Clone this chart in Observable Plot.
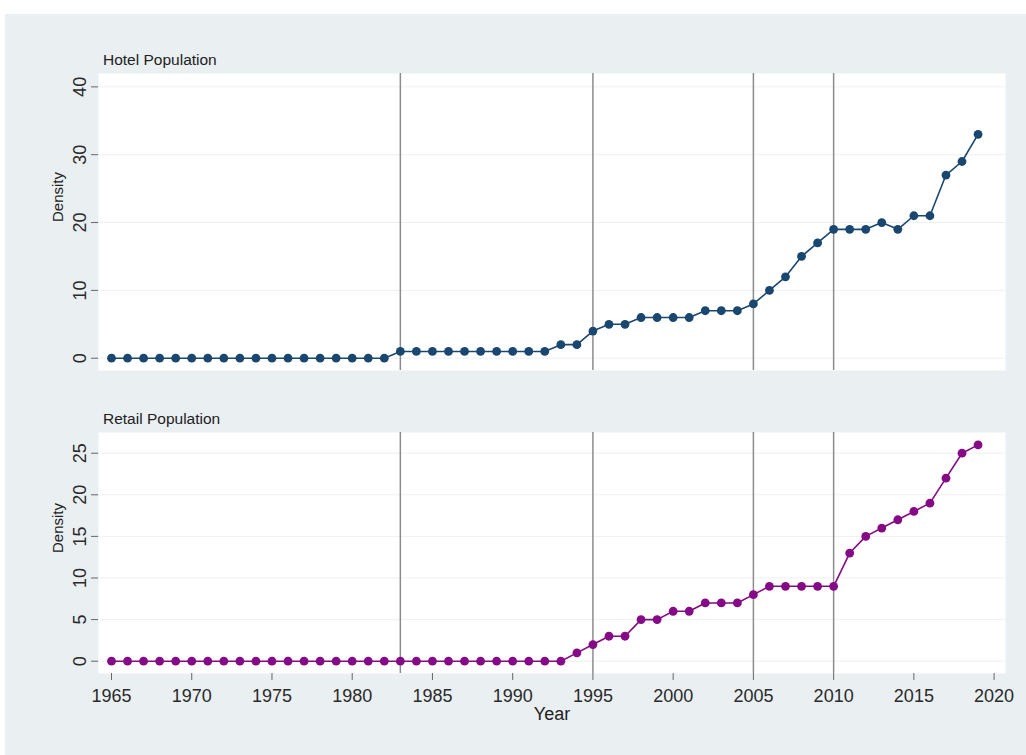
<!DOCTYPE html>
<html>
<head>
<meta charset="utf-8">
<script src="https://cdn.jsdelivr.net/npm/d3@7"></script>
<script src="https://cdn.jsdelivr.net/npm/@observablehq/plot@0.6"></script>
<style>
  html, body { margin: 0; padding: 0; background: #ffffff; width: 1026px; height: 755px; overflow: hidden; }
  body { position: relative; font-family: "Liberation Sans", Arial, sans-serif; color: #222; }
  #bg { position: absolute; left: 5px; top: 14px; width: 1021px; height: 741px; background: #eaeff2; }
  .ptitle { position: absolute; left: 103px; font-size: 15.5px; line-height: 16px; color: #222; white-space: nowrap; }
  .panel { position: absolute; left: 0; }
</style>
</head>
<body>
<div id="bg"></div>
<div class="ptitle" style="top:52px">Hotel Population</div>
<div id="top" class="panel" style="top:68px"></div>
<div class="ptitle" style="top:411px">Retail Population</div>
<div id="bottom" class="panel" style="top:427px"></div>
<script>
const years = [1965,1966,1967,1968,1969,1970,1971,1972,1973,1974,1975,1976,1977,1978,1979,1980,1981,1982,
  1983,1984,1985,1986,1987,1988,1989,1990,1991,1992,1993,1994,1995,1996,1997,1998,1999,2000,
  2001,2002,2003,2004,2005,2006,2007,2008,2009,2010,2011,2012,2013,2014,2015,2016,2017,2018,2019];
const hotel = [0,0,0,0,0,0,0,0,0,0,0,0,0,0,0,0,0,0,
  1,1,1,1,1,1,1,1,1,1,2,2,4,5,5,6,6,6,
  6,7,7,7,8,10,12,15,17,19,19,19,20,19,21,21,27,29,33];
const retail = [0,0,0,0,0,0,0,0,0,0,0,0,0,0,0,0,0,0,
  0,0,0,0,0,0,0,0,0,0,0,1,2,3,3,5,5,6,
  6,7,7,7,8,9,9,9,9,9,13,15,16,17,18,19,22,25,26];
const eventYears = [1983, 1995, 2005, 2010];
const xTicks = [1965,1970,1975,1980,1985,1990,1995,2000,2005,2010,2015,2020];
const hotelTicks = [0,10,20,30,40];
const retailTicks = [0,5,10,15,20,25];

const hotelData = years.map((y, i) => ({year: y, value: hotel[i]}));
const retailData = years.map((y, i) => ({year: y, value: retail[i]}));

const xDomain = [1964.19, 2020.71];
const font = "'Liberation Sans', Arial, sans-serif";

function panel({data, color, yDomain, yTicks, height, marginBottom, showX}) {
  const marks = [
    Plot.frame({fill: "white", stroke: null}),
    Plot.gridY(yTicks, {stroke: "#eef0f1", strokeOpacity: 1, strokeWidth: 1}),
    Plot.ruleX(eventYears, {stroke: "#8c8c8c", strokeWidth: 1.5}),
    Plot.axisY(yTicks, {
      anchor: "left", line: true, tickSize: 7, tickPadding: 6, tickRotate: -90,
      fontSize: 18, stroke: "#666", fill: "#2a2a2a", label: null
    }),
    Plot.text(["Density"], {frameAnchor: "left", dx: -40, rotate: -90, fontSize: 15, fill: "#222"}),
    Plot.line(data, {x: "year", y: "value", stroke: color, strokeWidth: 1.6}),
    Plot.dot(data, {x: "year", y: "value", r: 4.4, fill: color, stroke: null})
  ];
  if (showX) {
    marks.push(
      Plot.axisX(xTicks, {
        anchor: "bottom", line: true, tickSize: 7, tickPadding: 9, fontSize: 18,
        stroke: "#666", fill: "#2a2a2a", tickFormat: d => String(d), label: null
      }),
      Plot.text(["Year"], {frameAnchor: "bottom", dy: 46, fontSize: 18, fill: "#222"})
    );
  }
  return Plot.plot({
    width: 1026,
    height,
    marginLeft: 98,
    marginRight: 21,
    marginTop: 5,
    marginBottom,
    style: {background: "transparent", fontFamily: font, overflow: "visible"},
    x: {domain: xDomain, axis: null},
    y: {domain: yDomain, axis: null},
    marks
  });
}

document.getElementById("top").append(panel({
  data: hotelData, color: "#1a476f", yDomain: [-1.81, 41.97], yTicks: hotelTicks,
  height: 304, marginBottom: 2, showX: false
}));
document.getElementById("bottom").append(panel({
  data: retailData, color: "#850a85", yDomain: [-1.48, 27.49], yTicks: retailTicks,
  height: 306, marginBottom: 60, showX: true
}));
</script>
</body>
</html>
